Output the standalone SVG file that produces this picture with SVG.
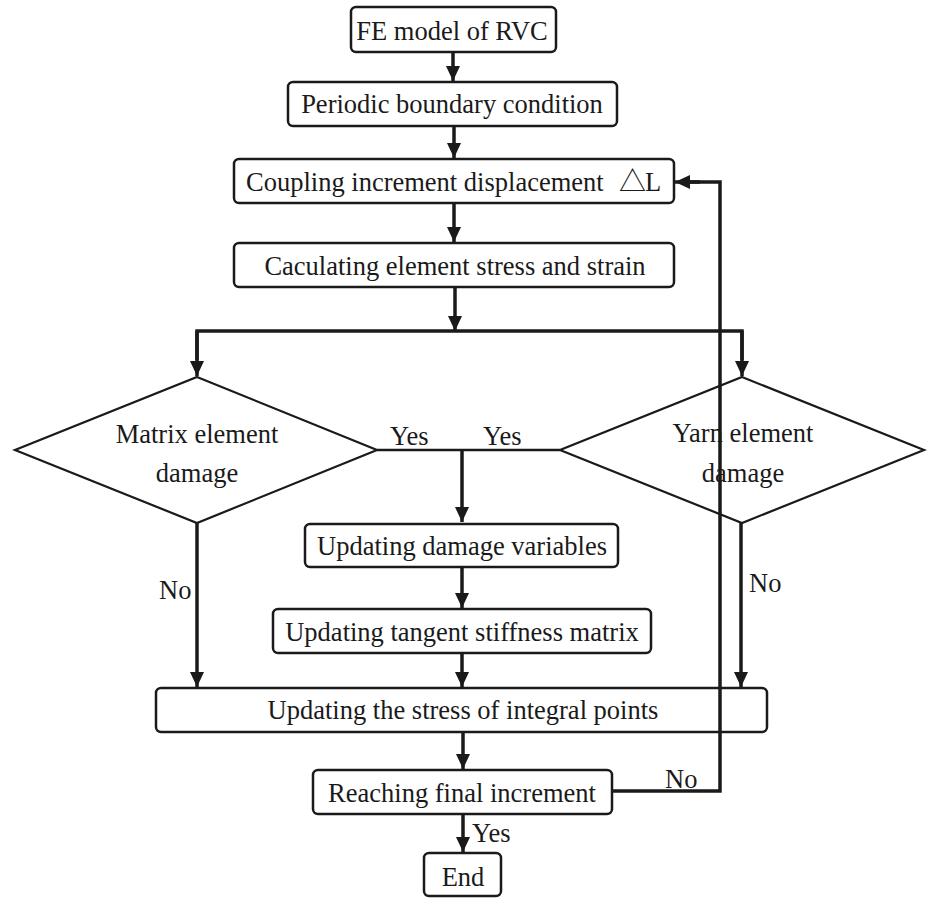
<svg xmlns="http://www.w3.org/2000/svg" width="927" height="898" viewBox="0 0 927 898">
<style>
.box{fill:#fff;stroke:#1a1a1a;stroke-width:2.5}
.dia{fill:#fff;stroke:#1a1a1a;stroke-width:2.2}
.t{font-family:"Liberation Serif","Times New Roman",serif;font-size:26.5px;fill:#1a1a1a}
.m{text-anchor:middle}
.c{fill:none;stroke:#1a1a1a;stroke-width:3.5}
.c2{fill:none;stroke:#1a1a1a;stroke-width:2.5}
</style>
<defs>
<marker id="ah" markerUnits="userSpaceOnUse" markerWidth="16" markerHeight="16" viewBox="0 0 16 16" refX="15" refY="8" orient="auto">
<path d="M0,1 L15,8 L0,15 Z" fill="#1a1a1a"/>
</marker>
</defs>
<rect width="927" height="898" fill="#fff"/>
<g id="n-fe"><rect class="box" x="351" y="7" width="205" height="45" rx="5"/><text class="t m" x="452" y="40">FE model of RVC</text></g>
<g id="n-periodic"><rect class="box" x="288" y="82" width="329" height="44" rx="5"/><text class="t m" x="452" y="113">Periodic boundary condition</text></g>
<g id="n-coupling"><rect class="box" x="234" y="159" width="440" height="44" rx="5"/><text class="t" x="246" y="191">Coupling increment displacement</text><text class="t" x="619" y="191" style="font-family:'Noto Sans CJK SC',sans-serif;font-size:27px">△</text><text class="t" x="645" y="191">L</text></g>
<g id="n-calc"><rect class="box" x="234" y="243" width="440" height="44" rx="5"/><text class="t m" x="455" y="275">Caculating element stress and strain</text></g>
<g id="n-matrix"><polygon class="dia" points="197,377 377,450 197,523 15,450"/><text class="t m" x="197" y="443">Matrix element</text><text class="t m" x="197" y="482">damage</text></g>
<g id="n-yarn"><polygon class="dia" points="742,377 924,450 742,523 560,450"/><text class="t m" x="743" y="442">Yarn element</text><text class="t m" x="743" y="482">damage</text></g>
<g id="n-damage"><rect class="box" x="305" y="524" width="313" height="43" rx="5"/><text class="t m" x="462" y="555">Updating damage variables</text></g>
<g id="n-tangent"><rect class="box" x="273" y="609" width="378" height="44" rx="5"/><text class="t m" x="462" y="641">Updating tangent stiffness matrix</text></g>
<g id="n-stress"><rect class="box" x="156" y="688" width="611" height="44" rx="5"/><text class="t m" x="463" y="719">Updating the stress of integral points</text></g>
<g id="n-reach"><rect class="box" x="313" y="770" width="299" height="44" rx="5"/><text class="t m" x="462" y="802">Reaching final increment</text></g>
<g id="n-end"><rect class="box" x="424" y="853" width="77" height="43" rx="5"/><text class="t m" x="463" y="886">End</text></g>
<g id="connectors">
<line class="c" x1="453" y1="52" x2="453" y2="81" marker-end="url(#ah)"/>
<line class="c" x1="454" y1="127" x2="454" y2="158" marker-end="url(#ah)"/>
<line class="c" x1="454" y1="203" x2="454" y2="242" marker-end="url(#ah)"/>
<line class="c" x1="455" y1="287" x2="455" y2="331" marker-end="url(#ah)"/>
<polyline class="c" points="197,360 197,331 742,331 742,360"/>
<line class="c" x1="197" y1="331" x2="197" y2="376" marker-end="url(#ah)"/>
<line class="c" x1="742" y1="331" x2="742" y2="376" marker-end="url(#ah)"/>
<line class="c2" x1="377" y1="450" x2="560" y2="450"/>
<line class="c" x1="462" y1="450" x2="462" y2="522" marker-end="url(#ah)"/>
<line class="c" x1="462" y1="567" x2="462" y2="608" marker-end="url(#ah)"/>
<line class="c" x1="462" y1="653" x2="462" y2="687" marker-end="url(#ah)"/>
<line class="c" x1="197" y1="523" x2="197" y2="687" marker-end="url(#ah)"/>
<line class="c" x1="741" y1="523" x2="741" y2="687" marker-end="url(#ah)"/>
<line class="c" x1="463" y1="732" x2="463" y2="769" marker-end="url(#ah)"/>
<line class="c" x1="463" y1="814" x2="463" y2="852" marker-end="url(#ah)"/>
<polyline class="c" points="612,791 720,791 720,182 690,182"/>
<line class="c" x1="700" y1="182" x2="675" y2="182" marker-end="url(#ah)"/>
</g>
<g id="labels">
<text class="t" x="390" y="445">Yes</text>
<text class="t" x="483" y="445">Yes</text>
<text class="t" x="159" y="599">No</text>
<text class="t" x="749" y="592">No</text>
<text class="t" x="665" y="788">No</text>
<text class="t" x="472" y="842">Yes</text>
</g>
</svg>
